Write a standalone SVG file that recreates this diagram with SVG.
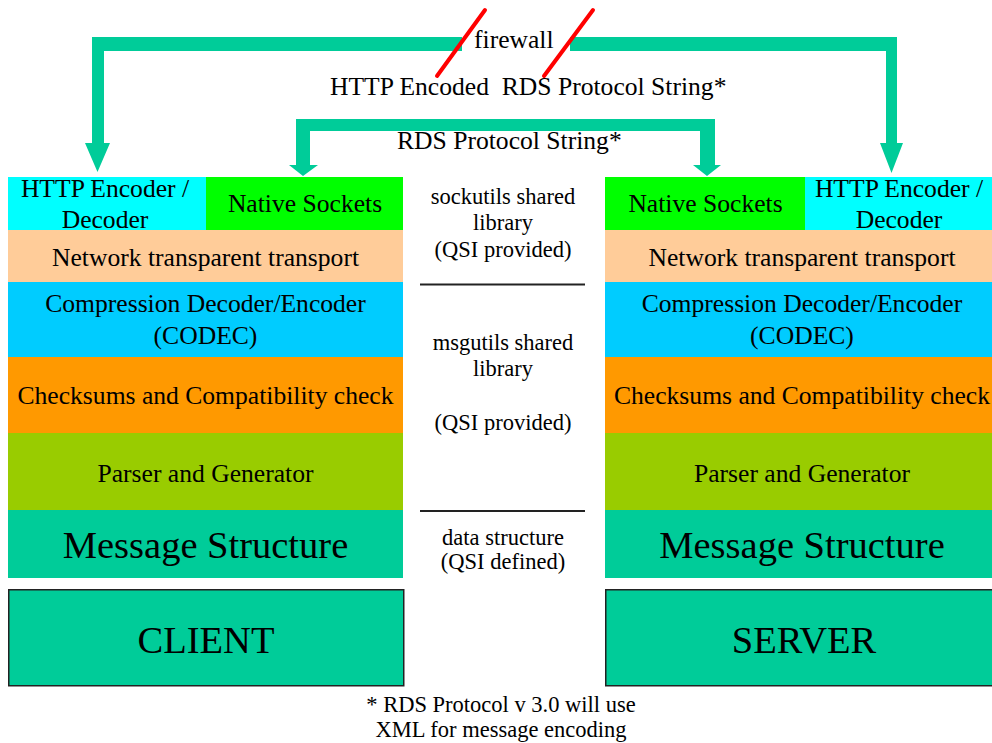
<svg xmlns="http://www.w3.org/2000/svg" width="992" height="743" viewBox="0 0 992 743">
<style>
text{font-family:"Liberation Serif","Times New Roman",serif;fill:#000}
.t{font-size:25.6px;text-anchor:middle}
.m{font-size:22.5px;text-anchor:middle}
.big{font-size:38.5px;text-anchor:middle}
.arrow{fill:#00CC99}
.fw{stroke:#FF0000;stroke-width:4;stroke-linecap:round}
.sep{stroke:#222;stroke-width:2}
.box{stroke:#222;stroke-width:1.5}
</style>
<rect width="992" height="743" fill="#fff"/>
<g id="connectors">
<polygon class="arrow" points="462,37 92,37 92,143 85,143 97.5,172 110,143 104,143 104,51 462,51"/>
<polygon class="arrow" points="570,37 897,37 897,143 903,143 891.5,173 880,143 886,143 886,51 570,51"/>
<polygon class="arrow" points="296,119 715,119 715,165 721,165 707,176 693,165 700,165 700,131 310,131 310,165 318,165 303,176 289,165 296,165"/>
<line class="fw" x1="485" y1="10" x2="437" y2="76"/>
<line class="fw" x1="593" y1="10" x2="544" y2="76"/>
</g>
<g id="labels">
<text x="474" y="48" style="font-size:25.6px">firewall</text>
<text x="330" y="95" style="font-size:25.6px;white-space:pre" xml:space="preserve">HTTP Encoded  RDS Protocol String*</text>
<text x="397" y="149" style="font-size:25.6px">RDS Protocol String*</text>
</g>
<g id="client-http">
<rect x="8" y="177" width="198" height="53" fill="#00FFFF"/>
<text class="t" x="105" y="197">HTTP Encoder /</text>
<text class="t" x="105" y="228">Decoder</text>
</g>
<g id="client-sockets">
<rect x="206" y="177" width="197" height="53" fill="#00FF00"/>
<text class="t" x="305" y="212">Native Sockets</text>
</g>
<g id="client-transport">
<rect x="8" y="230" width="395" height="52" fill="#FFCC99"/>
<text class="t" x="205.5" y="266">Network transparent transport</text>
</g>
<g id="client-codec">
<rect x="8" y="282" width="395" height="75" fill="#00CCFF"/>
<text class="t" x="205.5" y="312">Compression Decoder/Encoder</text>
<text class="t" x="205.5" y="344">(CODEC)</text>
</g>
<g id="client-checksum">
<rect x="8" y="357" width="395" height="76" fill="#FF9900"/>
<text class="t" x="205.5" y="404">Checksums and Compatibility check</text>
</g>
<g id="client-parser">
<rect x="8" y="433" width="395" height="77" fill="#99CC00"/>
<text class="t" x="205.5" y="482">Parser and Generator</text>
</g>
<g id="client-message">
<rect x="8" y="510" width="395" height="68" fill="#00CC99"/>
<text class="big" x="205.5" y="558">Message Structure</text>
</g>
<g id="client">
<rect class="box" x="8.75" y="589.75" width="395" height="96" fill="#00CC99"/>
<text class="big" x="206" y="653">CLIENT</text>
</g>
<g id="server-sockets">
<rect x="605" y="177" width="200" height="53" fill="#00FF00"/>
<text class="t" x="705.5" y="212">Native Sockets</text>
</g>
<g id="server-http">
<rect x="805" y="177" width="194" height="53" fill="#00FFFF"/>
<text class="t" x="899" y="197">HTTP Encoder /</text>
<text class="t" x="899" y="228">Decoder</text>
</g>
<g id="server-transport">
<rect x="605" y="230" width="394" height="52" fill="#FFCC99"/>
<text class="t" x="802" y="266">Network transparent transport</text>
</g>
<g id="server-codec">
<rect x="605" y="282" width="394" height="75" fill="#00CCFF"/>
<text class="t" x="802" y="312">Compression Decoder/Encoder</text>
<text class="t" x="802" y="344">(CODEC)</text>
</g>
<g id="server-checksum">
<rect x="605" y="357" width="394" height="76" fill="#FF9900"/>
<text class="t" x="802" y="404">Checksums and Compatibility check</text>
</g>
<g id="server-parser">
<rect x="605" y="433" width="394" height="77" fill="#99CC00"/>
<text class="t" x="802" y="482">Parser and Generator</text>
</g>
<g id="server-message">
<rect x="605" y="510" width="394" height="68" fill="#00CC99"/>
<text class="big" x="802" y="558">Message Structure</text>
</g>
<g id="server">
<rect class="box" x="605.75" y="589.75" width="395" height="96" fill="#00CC99"/>
<text class="big" x="804" y="653">SERVER</text>
</g>
<g id="sockutils">
<text class="m" x="503" y="204">sockutils shared</text>
<text class="m" x="503" y="230">library</text>
<text class="m" x="503" y="257">(QSI provided)</text>
<line class="sep" x1="420" y1="284.5" x2="585" y2="284.5"/>
</g>
<g id="msgutils">
<text class="m" x="503" y="350">msgutils shared</text>
<text class="m" x="503" y="376">library</text>
<text class="m" x="503" y="430">(QSI provided)</text>
<line class="sep" x1="420" y1="511" x2="585" y2="511"/>
</g>
<g id="datastructure">
<text class="m" x="503" y="545">data structure</text>
<text class="m" x="503" y="569">(QSI defined)</text>
</g>
<g id="footnote">
<text class="m" x="501" y="712">* RDS Protocol v 3.0 will use</text>
<text class="m" x="501" y="737">XML for message encoding</text>
</g>
</svg>
